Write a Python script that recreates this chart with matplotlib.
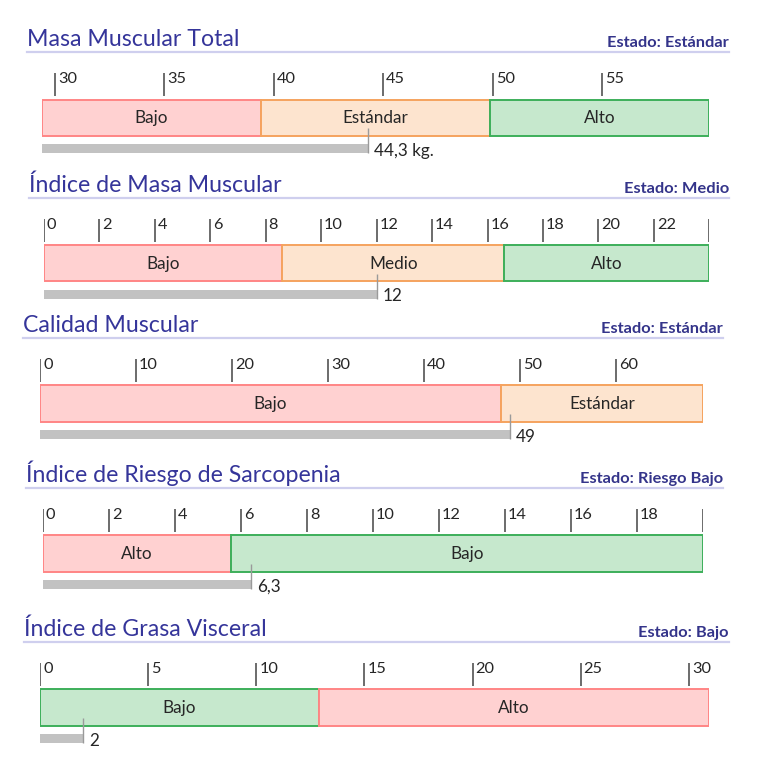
import matplotlib.pyplot as plt
from matplotlib.lines import Line2D
from matplotlib.transforms import offset_copy

plt.rcParams['font.family'] = ['Lato', 'DejaVu Sans']

# data
titles = ['Masa Muscular Total', 'Índice de Masa Muscular', 'Calidad Muscular',
          'Índice de Riesgo de Sarcopenia', 'Índice de Grasa Visceral']
estados = ['Estado: Estándar', 'Estado: Medio', 'Estado: Estándar',
           'Estado: Riesgo Bajo', 'Estado: Bajo']
bounds = [[29.4, 39.4, 49.9, 59.9],
          [0, 8.6, 16.6, 24],
          [0, 48, 69.1],
          [0, 5.7, 20],
          [0, 12.9, 30.95]]
seg_labels = [['Bajo', 'Estándar', 'Alto'],
              ['Bajo', 'Medio', 'Alto'],
              ['Bajo', 'Estándar'],
              ['Alto', 'Bajo'],
              ['Bajo', 'Alto']]
seg_kinds = [['red', 'orange', 'green'],
             ['red', 'orange', 'green'],
             ['red', 'orange'],
             ['red', 'green'],
             ['green', 'red']]
ticks = [[30, 35, 40, 45, 50, 55],
         [0, 2, 4, 6, 8, 10, 12, 14, 16, 18, 20, 22, 24],
         [0, 10, 20, 30, 40, 50, 60],
         [0, 2, 4, 6, 8, 10, 12, 14, 16, 18, 20],
         [0, 5, 10, 15, 20, 25, 30]]
tick_labels = [['30', '35', '40', '45', '50', '55'],
               ['0', '2', '4', '6', '8', '10', '12', '14', '16', '18', '20', '22', ''],
               ['0', '10', '20', '30', '40', '50', '60'],
               ['0', '2', '4', '6', '8', '10', '12', '14', '16', '18', ''],
               ['0', '5', '10', '15', '20', '25', '30']]
values = [44.3, 12, 49, 6.3, 2]
value_labels = ['44,3 kg.', '12', '49', '6,3', '2']

# layout in pixels (768 x 768 canvas)
W = 768.0
underline_y = [52.3, 197.7, 338, 488, 642]
underline_x = [(27, 729), (29, 729), (23, 723), (26, 723), (24, 729)]
bar_x = [(41.7, 709.4), (43.9, 709.4), (40, 703.1), (43, 702.6), (40, 709.4)]

fills = {'red': '#ffd1d1', 'orange': '#fde4cf', 'green': '#c6e8cd'}
edges = {'red': '#ff8585', 'orange': '#f5a35e', 'green': '#3daf5a'}
title_color = '#35359a'
text_color = '#262626'

fig = plt.figure(figsize=(7.68, 7.68), dpi=100)
fig.patch.set_facecolor('white')

for i in range(len(titles)):
    u = underline_y[i]
    x0, x1 = underline_x[i]
    fig.text(x0 / W, 1 - (u - 6) / W, titles[i], fontsize=16.7,
             color=title_color, va='baseline', ha='left')
    fig.text(x1 / W, 1 - (u - 5) / W, estados[i], fontsize=11.8,
             fontweight='bold', color='#34348a', va='baseline', ha='right')
    fig.add_artist(Line2D([x0 / W, x1 / W], [1 - u / W, 1 - u / W],
                          color='#cfcfee', lw=1.6))

    # axes: x in data units, y in pixel offsets below the underline
    bl, br = bar_x[i]
    ax = fig.add_axes([bl / W, 1 - (u + 106) / W, (br - bl) / W, 90 / W])
    ax.set_xlim(bounds[i][0], bounds[i][-1])
    ax.set_ylim(106, 16)
    ax.axis('off')

    b = bounds[i]
    for j in range(len(seg_labels[i])):
        k = seg_kinds[i][j]
        ax.barh(65.5, b[j + 1] - b[j], left=b[j], height=36.5,
                color=fills[k], edgecolor=edges[k], linewidth=1.4, zorder=2)
        ax.text((b[j] + b[j + 1]) / 2, 66, seg_labels[i][j], fontsize=12.3,
                color=text_color, ha='center', va='center', zorder=4)

    ax.vlines(ticks[i], 21, 44, color='#6b6b6b', lw=1.4)
    lab_tr = offset_copy(ax.transData, fig=fig, x=3, y=0, units='dots')
    for t, lab in zip(ticks[i], tick_labels[i]):
        ax.text(t, 20, lab, fontsize=11.8, color=text_color,
                ha='left', va='top', transform=lab_tr)

    # measured value
    ax.barh(96.5, values[i] - b[0], left=b[0], height=9,
            color='#c2c2c2', zorder=2)
    ax.vlines(values[i], 76, 101, color='#9a9a9a', lw=1, zorder=3)
    val_tr = offset_copy(ax.transData, fig=fig, x=6, y=0, units='dots')
    ax.text(values[i], 98.5, value_labels[i], fontsize=12.3, color=text_color,
            ha='left', va='center', transform=val_tr)

fig.savefig('out.png', dpi=100, facecolor='white')
